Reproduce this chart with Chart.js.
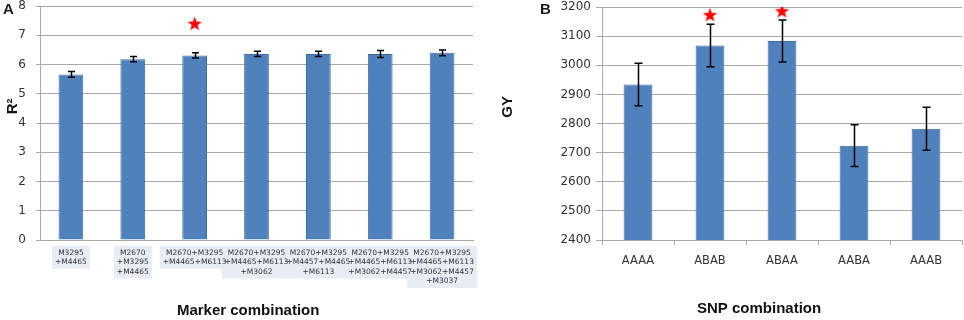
<!DOCTYPE html>
<html>
<head>
<meta charset="utf-8">
<script src="https://cdn.jsdelivr.net/npm/chart.js@4.4.0/dist/chart.umd.min.js"></script>
<style>
  body { margin: 0; background: #fff; width: 964px; height: 320px; position: relative; overflow: hidden; }
  .panel { position: absolute; top: 0; height: 320px; }
  #pa { left: 0; width: 480px; }
  #pb { left: 480px; width: 484px; }
  .tag { position: absolute; top: 1px; font: bold 15px/15px "Liberation Sans", Arial, sans-serif; color: #1a1a1a; }
</style>
</head>
<body>
<div class="panel" id="pa"><canvas id="chartA"></canvas></div>
<div class="panel" id="pb"><canvas id="chartB"></canvas></div>
<div class="tag" style="left:3px">A</div>
<div class="tag" style="left:540px">B</div>
<script>
// panel A - marker combinations
const catsA = [
  ['M3295', '+M4465'],
  ['M2670', '+M3295', '+M4465'],
  ['M2670+M3295', '+M4465+M6113'],
  ['M2670+M3295', '+M4465+M6113', '+M3062'],
  ['M2670+M3295', '+M4457+M4465', '+M6113'],
  ['M2670+M3295', '+M4465+M6113', '+M3062+M4457'],
  ['M2670+M3295', '+M4465+M6113', '+M3062+M4457', '+M3037']
];
const valsA = [5.66, 6.18, 6.31, 6.36, 6.36, 6.36, 6.40];
const errA = [0.10, 0.09, 0.09, 0.09, 0.09, 0.12, 0.10];
const starsA = [null, null, 7.41, null, null, null, null];

// panel B - SNP combinations
const catsB = ['AAAA', 'ABAB', 'ABAA', 'AABA', 'AAAB'];
const valsB = [2934, 3068, 3083, 2724, 2782];
const errB = [73, 73, 72, 72, 74];
const starsB = [null, 3174, 3187, null, null];

const BAR = '#4f81bd';
const GRID = '#a9a9a9';
const TXT = '#333333';
const LBL_SIZE = 7.5, LBL_LH = 9.5, LBL_PAD = 8;

function makeStar(size, color) {
  const c = document.createElement('canvas');
  c.width = size; c.height = size;
  const g = c.getContext('2d');
  const cx = size / 2, cy = size / 2 + 0.8, R = size / 2, r = R * 0.42;
  g.beginPath();
  for (let i = 0; i < 10; i++) {
    const rad = i % 2 ? r : R;
    const a = -Math.PI / 2 + i * Math.PI / 5;
    g.lineTo(cx + rad * Math.cos(a), cy + rad * Math.sin(a));
  }
  g.closePath();
  g.fillStyle = color;
  g.fill();
  return c;
}
const star = makeStar(15, '#ff0000');

// draws the error bars on top of the bars
const errorBars = {
  id: 'errorBars',
  afterDatasetsDraw(chart, args, opts) {
    const meta = chart.getDatasetMeta(0);
    const vals = chart.data.datasets[0].data;
    const y = chart.scales.y;
    const ctx = chart.ctx;
    ctx.save();
    ctx.strokeStyle = '#000';
    ctx.lineWidth = 1.5;
    meta.data.forEach((bar, i) => {
      const e = opts.errors[i];
      const t = y.getPixelForValue(vals[i] + e);
      const b = y.getPixelForValue(vals[i] - e);
      const x = Math.round(bar.x) + 0.5;
      ctx.beginPath();
      ctx.moveTo(x, t); ctx.lineTo(x, b);
      ctx.moveTo(x - opts.cap, t); ctx.lineTo(x + opts.cap, t);
      ctx.moveTo(x - opts.cap, b); ctx.lineTo(x + opts.cap, b);
      ctx.stroke();
    });
    ctx.restore();
  }
};

// light boxes behind the multi-line tick labels (the built-in backdrop
// gets repainted over each line, so it hides all but the last one)
const labelBoxes = {
  id: 'labelBoxes',
  beforeDraw(chart, args, opts) {
    if (!opts.on) return;
    const sx = chart.scales.x;
    const ctx = chart.ctx;
    ctx.save();
    ctx.font = LBL_SIZE + 'px "DejaVu Sans"';
    ctx.fillStyle = '#e8edf5';
    chart.data.labels.forEach((lines, i) => {
      const w = Math.max(...lines.map(l => ctx.measureText(l).width));
      const h = lines.length * LBL_LH;
      const x = sx.getPixelForTick(i);
      ctx.fillRect(x - w / 2 - 3, sx.top + LBL_PAD - 2, w + 6, h + 4);
    });
    ctx.restore();
  }
};

function barChart(id, labels, vals, stars, errs, o) {
  return new Chart(document.getElementById(id), {
    type: 'bar',
    data: {
      labels: labels,
      datasets: [{
        data: vals,
        backgroundColor: BAR,
        borderColor: '#3d6cab',
        borderWidth: 1,
        categoryPercentage: 1,
        barPercentage: 0.4
      }, {
        type: 'line',
        data: stars,
        showLine: false,
        pointStyle: star,
        pointRadius: 7
      }]
    },
    options: {
      responsive: true,
      maintainAspectRatio: false,
      animation: false,
      layout: { padding: o.padding, autoPadding: false },
      plugins: {
        legend: { display: false },
        tooltip: { enabled: false },
        errorBars: { errors: errs, cap: o.cap },
        labelBoxes: { on: o.boxes }
      },
      scales: {
        x: {
          grid: o.xGrid,
          border: { color: GRID },
          ticks: o.xTicks,
          title: {
            display: true, text: o.xTitle, color: '#111',
            font: { family: 'Liberation Sans', weight: 'bold', size: 15 },
            padding: { top: 0, bottom: o.xTitlePad }
          },
          afterFit: s => { s.height = 80; s.paddingLeft = 0; s.paddingRight = 0; }
        },
        y: {
          min: o.min, max: o.max,
          grid: { color: GRID, tickLength: o.yTick },
          border: { color: GRID },
          ticks: {
            stepSize: o.step, color: TXT, padding: o.yPad,
            font: { family: 'DejaVu Sans', size: 12 },
            callback: v => String(v)
          },
          title: {
            display: true, text: o.yTitle, color: '#111',
            font: { family: 'Liberation Sans', weight: 'bold', size: 15 },
            padding: { top: o.yTitlePad, bottom: 0 }
          },
          afterFit: s => { s.width = o.yWidth; s.paddingTop = 0; s.paddingBottom = 0; }
        }
      }
    },
    plugins: [errorBars, labelBoxes]
  });
}

// titles sit a little off the plot centre in the original, hence the spaces
barChart('chartA', catsA, valsA, starsA, errA, {
  padding: { top: 6, right: 7, left: 0, bottom: 0 },
  cap: 3.5,
  boxes: true,
  xGrid: { display: false, drawTicks: false },
  xTicks: {
    color: TXT, padding: LBL_PAD, maxRotation: 0, autoSkip: false,
    font: { family: 'DejaVu Sans', size: LBL_SIZE, lineHeight: LBL_LH + 'px' }
  },
  xTitle: 'Marker combination    ', xTitlePad: 0,
  min: 0, max: 8, step: 1, yTick: 4, yPad: 10,
  yTitle: '        R²', yTitlePad: 4, yWidth: 40
});

barChart('chartB', catsB, valsB, starsB, errB, {
  padding: { top: 7, right: 2, left: 0, bottom: 0 },
  cap: 4,
  boxes: false,
  xGrid: { drawOnChartArea: false, drawTicks: true, tickLength: 5, color: GRID },
  xTicks: {
    color: TXT, padding: 9, maxRotation: 0, autoSkip: false,
    font: { family: 'DejaVu Sans', size: 11.5 }
  },
  xTitle: 'SNP combination           ', xTitlePad: 2,
  min: 2400, max: 3200, step: 100, yTick: 6, yPad: 5,
  yTitle: '        GY', yTitlePad: 19, yWidth: 122
});
</script>
</body>
</html>
